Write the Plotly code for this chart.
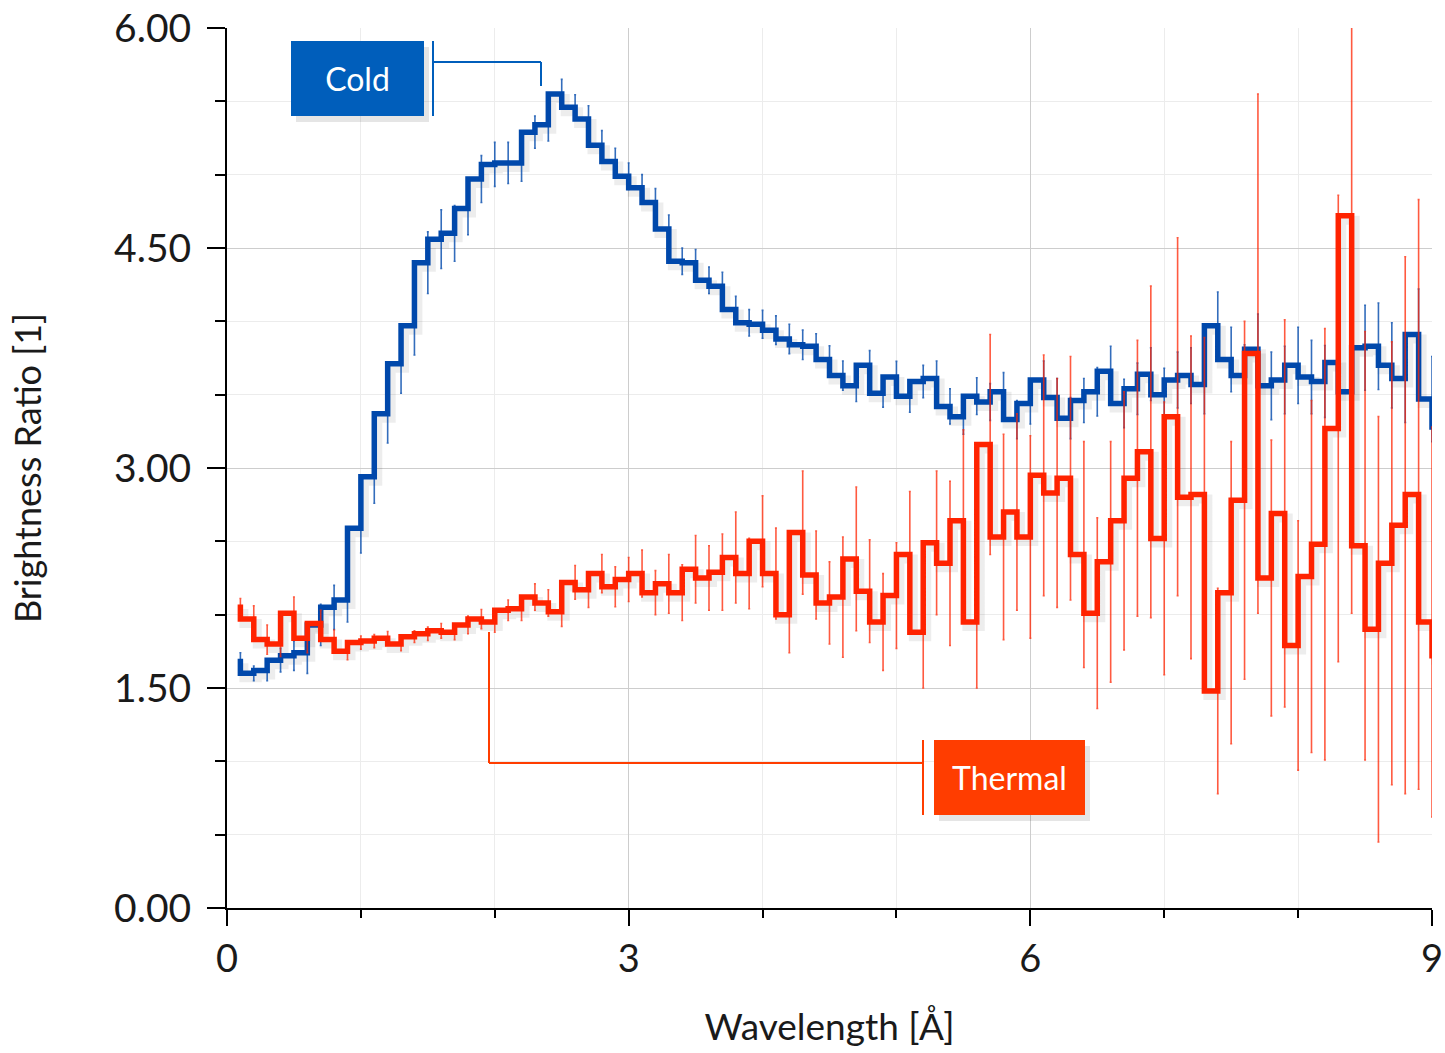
import plotly.graph_objects as go

# ---------------- data ----------------
wavelength = [round(0.1 * i, 1) for i in range(1, 92)]  # 0.1 ... 9.1

cold = [1.70, 1.60, 1.62, 1.69, 1.72, 1.74, 1.93, 2.05, 2.10, 2.59,
        2.94, 3.37, 3.71, 3.97, 4.40, 4.56, 4.60, 4.77, 4.97, 5.07,
        5.08, 5.08, 5.29, 5.34, 5.55, 5.46, 5.38, 5.20, 5.09, 4.99,
        4.91, 4.81, 4.63, 4.41, 4.40, 4.28, 4.24, 4.08, 3.99, 3.98,
        3.94, 3.88, 3.84, 3.83, 3.74, 3.63, 3.56, 3.70, 3.51, 3.62,
        3.49, 3.59, 3.61, 3.42, 3.35, 3.49, 3.45, 3.52, 3.33, 3.44,
        3.60, 3.48, 3.34, 3.46, 3.52, 3.66, 3.44, 3.54, 3.64, 3.50,
        3.60, 3.63, 3.57, 3.97, 3.74, 3.63, 3.81, 3.56, 3.60, 3.70,
        3.62, 3.59, 3.72, 3.52, 3.82, 3.83, 3.70, 3.61, 3.91, 3.47,
        3.28]
cold_err = [0.04, 0.05, 0.07, 0.08, 0.10, 0.14, 0.14, 0.15, 0.15, 0.17,
            0.18, 0.20, 0.20, 0.20, 0.21, 0.20, 0.19, 0.18, 0.16, 0.15,
            0.14, 0.125, 0.11, 0.11, 0.10, 0.085, 0.09, 0.10, 0.09, 0.09,
            0.09, 0.095, 0.095, 0.09, 0.09, 0.09, 0.095, 0.09, 0.09, 0.095,
            0.097, 0.10, 0.10, 0.085, 0.093, 0.10, 0.107, 0.10, 0.095, 0.107,
            0.11, 0.11, 0.12, 0.12, 0.12, 0.125, 0.125, 0.13, 0.13, 0.14,
            0.13, 0.13, 0.14, 0.15, 0.165, 0.17, 0.165, 0.175, 0.18, 0.18,
            0.19, 0.19, 0.20, 0.23, 0.22, 0.21, 0.24, 0.23, 0.23, 0.26,
            0.25, 0.245, 0.26, 0.27, 0.29, 0.295, 0.29, 0.30, 0.31, 0.29,
            0.30]

thermal = [2.07, 1.97, 1.83, 1.80, 2.01, 1.84, 1.94, 1.83, 1.75, 1.81,
           1.82, 1.84, 1.80, 1.85, 1.87, 1.89, 1.88, 1.93, 1.97, 1.95,
           2.03, 2.04, 2.12, 2.08, 2.02, 2.22, 2.17, 2.28, 2.19, 2.24,
           2.28, 2.15, 2.21, 2.15, 2.31, 2.25, 2.29, 2.39, 2.28, 2.50,
           2.28, 2.00, 2.56, 2.27, 2.08, 2.12, 2.38, 2.16, 1.95, 2.13,
           2.41, 1.88, 2.49, 2.35, 2.64, 1.95, 3.16, 2.53, 2.70, 2.53,
           2.95, 2.83, 2.93, 2.41, 2.01, 2.36, 2.64, 2.93, 3.11, 2.52,
           3.35, 2.80, 2.82, 1.48, 2.15, 2.78, 3.78, 2.25, 2.69, 1.79,
           2.26, 2.48, 3.27, 4.72, 2.47, 1.90, 2.35, 2.61, 2.82, 1.95,
           1.72]
thermal_err = [0.04, 0.09, 0.10, 0.085, 0.11, 0.10, 0.09, 0.065, 0.057, 0.045,
               0.045, 0.045, 0.045, 0.04, 0.045, 0.05, 0.05, 0.06, 0.065, 0.07,
               0.07, 0.08, 0.09, 0.09, 0.10, 0.115, 0.12, 0.13, 0.136, 0.15,
               0.16, 0.15, 0.20, 0.19, 0.23, 0.22, 0.26, 0.31, 0.24, 0.31,
               0.31, 0.26, 0.42, 0.30, 0.28, 0.41, 0.49, 0.35, 0.33, 0.36,
               0.43, 0.38, 0.49, 0.56, 0.62, 0.45, 0.75, 0.70, 0.67, 0.69,
               0.82, 0.78, 0.83, 0.77, 0.65, 0.82, 0.88, 0.94, 1.13, 0.93,
               1.22, 1.10, 1.07, 0.70, 1.03, 1.22, 1.77, 0.94, 1.32, 0.85,
               1.20, 1.47, 1.59, 2.71, 1.46, 1.45, 1.51, 1.83, 2.01, 1.33,
               1.30]

x_range = [0, 9]
y_range = [0, 6]
x_ticks = [0, 3, 6, 9]
y_ticks = [0, 1.5, 3, 4.5, 6]

# ---------------- style ----------------
BLUE = "#0048ab"
BLUE_BOX = "#005ebb"
RED = "#ff2300"
RED_BOX = "#ff3d00"
FONT = "Lato"
TXT = "#1a1a1a"

W, H = 1445, 1053
ML, MR, MT, MB = 227, 13, 28, 145
px_x = (W - ML - MR) / (x_range[1] - x_range[0])
px_y = (H - MT - MB) / (y_range[1] - y_range[0])
SHX, SHY = 3.5, 4.5  # shadow offset in pixels

fig = go.Figure()

# shadows (on shifted invisible axes x/y)
for ys in (cold, thermal):
    fig.add_trace(go.Scatter(
        x=wavelength, y=ys, mode="lines", xaxis="x", yaxis="y",
        line=dict(shape="vh", width=9, color="rgba(0,0,0,0.07)"),
        hoverinfo="skip", showlegend=False))

# main series on visible axes x2/y2
fig.add_trace(go.Scatter(
    x=wavelength, y=cold, mode="lines", name="Cold", xaxis="x2", yaxis="y2",
    line=dict(shape="vh", width=5.5, color=BLUE), showlegend=False))
fig.add_trace(go.Scatter(
    x=wavelength, y=cold, mode="markers", xaxis="x2", yaxis="y2",
    marker=dict(size=1, color="rgba(0,0,0,0)"),
    error_y=dict(type="data", array=cold_err, color="rgba(0,72,171,0.8)",
                 thickness=1.6, width=1),
    hoverinfo="skip", showlegend=False))
fig.add_trace(go.Scatter(
    x=wavelength, y=thermal, mode="lines", name="Thermal", xaxis="x2", yaxis="y2",
    line=dict(shape="vh", width=5.5, color=RED), showlegend=False))
fig.add_trace(go.Scatter(
    x=wavelength, y=thermal, mode="markers", xaxis="x2", yaxis="y2",
    marker=dict(size=1, color="rgba(0,0,0,0)"),
    error_y=dict(type="data", array=thermal_err, color="rgba(255,35,0,0.75)",
                 thickness=1.6, width=1),
    hoverinfo="skip", showlegend=False))

hidden = dict(visible=False, showgrid=False, zeroline=False, fixedrange=True,
              automargin=False)

fig.update_layout(
    width=W, height=H,
    margin=dict(l=ML, r=MR, t=MT, b=MB, autoexpand=False),
    paper_bgcolor="white", plot_bgcolor="white",
    font=dict(family=FONT, color=TXT),
    xaxis=dict(hidden, range=[x_range[0] - SHX / px_x, x_range[1] - SHX / px_x]),
    yaxis=dict(hidden, range=[y_range[0] + SHY / px_y, y_range[1] + SHY / px_y]),
    xaxis2=dict(
        overlaying="x", range=x_range, tickvals=x_ticks, automargin=False,
        showline=True, linecolor="black", linewidth=2,
        ticks="outside", ticklen=16, tickwidth=2, tickcolor="black",
        showgrid=True, gridcolor="#cdcdcd", gridwidth=1,
        minor=dict(dtick=1, ticks="outside", ticklen=8, tickwidth=2,
                   tickcolor="black", showgrid=True, gridcolor="#ececec"),
        zeroline=False, tickfont=dict(size=38, family=FONT, color=TXT),
        ticklabelstandoff=0,
        title=dict(text="Wavelength [Å]", font=dict(size=37, family=FONT, color=TXT),
                   standoff=36),
    ),
    yaxis2=dict(
        overlaying="y", range=y_range, tickvals=y_ticks, tickformat=".2f",
        automargin=False,
        showline=True, linecolor="black", linewidth=2,
        ticks="outside", ticklen=18, tickwidth=2, tickcolor="black",
        showgrid=True, gridcolor="#cdcdcd", gridwidth=1,
        minor=dict(dtick=0.5, ticks="outside", ticklen=10, tickwidth=2,
                   tickcolor="black", showgrid=True, gridcolor="#ececec"),
        zeroline=False, tickfont=dict(size=39, family=FONT, color=TXT),
        ticklabelstandoff=8,
        title=dict(text="Brightness Ratio [1]", font=dict(size=36, family=FONT, color=TXT),
                   standoff=62),
    ),
)

def dx(px):
    return x_range[0] + (px - ML) / px_x

def dy(py):
    return y_range[1] - (py - MT) / px_y

# callout brackets
brk = dict(xref="x2", yref="y2", type="line")
fig.add_shape(**brk, x0=dx(433), x1=dx(433), y0=dy(41), y1=dy(116), line=dict(color=BLUE_BOX, width=2))
fig.add_shape(**brk, x0=dx(433), x1=dx(541), y0=dy(62), y1=dy(62), line=dict(color=BLUE_BOX, width=2))
fig.add_shape(**brk, x0=dx(541), x1=dx(541), y0=dy(62), y1=dy(86), line=dict(color=BLUE_BOX, width=2))

fig.add_shape(**brk, x0=dx(923), x1=dx(923), y0=dy(740), y1=dy(815), line=dict(color=RED_BOX, width=2))
fig.add_shape(**brk, x0=dx(489), x1=dx(923), y0=dy(763), y1=dy(763), line=dict(color=RED_BOX, width=2))
fig.add_shape(**brk, x0=dx(489), x1=dx(489), y0=dy(632), y1=dy(763), line=dict(color=RED_BOX, width=2))

# box shadows
for (bx0, by0, bx1, by1) in [(291, 41, 424, 116), (934, 740, 1085, 815)]:
    fig.add_shape(type="rect", xref="x2", yref="y2",
                  x0=dx(bx0 + 5), x1=dx(bx1 + 5), y0=dy(by0 + 6), y1=dy(by1 + 6),
                  line=dict(width=0), fillcolor="rgba(0,0,0,0.10)", layer="above")

fig.add_annotation(xref="x2", yref="y2", x=dx(357.5), y=dy(78.5), text="Cold",
                   showarrow=False, bgcolor=BLUE_BOX, width=133, height=75,
                   borderpad=0, borderwidth=0,
                   font=dict(size=32, family=FONT, color="white"))
fig.add_annotation(xref="x2", yref="y2", x=dx(1009.5), y=dy(777.5), text="Thermal",
                   showarrow=False, bgcolor=RED_BOX, width=151, height=75,
                   borderpad=0, borderwidth=0,
                   font=dict(size=32, family=FONT, color="white"))

fig.write_html("out.html")
